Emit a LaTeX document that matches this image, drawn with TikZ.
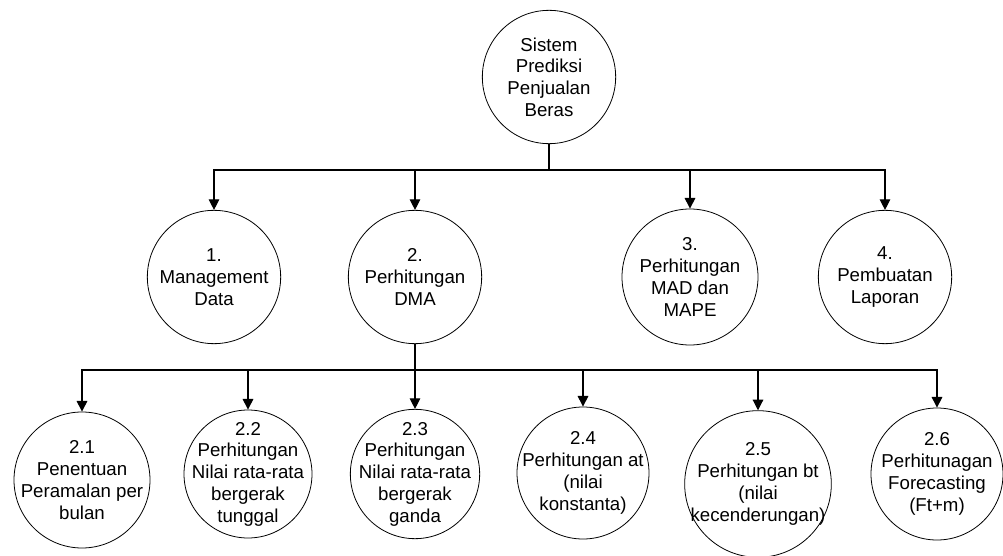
\documentclass[tikz,border=0pt]{standalone}
\usepackage{fontspec}
\setmainfont{Liberation Sans}
\usepackage{tikz}
\usetikzlibrary{arrows.meta}

\begin{document}
\begin{tikzpicture}[->,>={Triangle[length=8pt,width=8pt]},line width=0.8pt,x=0.75pt,y=-0.75pt,
  font=\fontsize{14}{16.3}\selectfont]

    \tikzstyle{proc}=[circle,draw=black,line width=0.6pt,fill=white,text=black,align=center,minimum size=100pt,inner sep=-30pt]

    \useasboundingbox (0,0) rectangle (1003,556);

    \node[proc] (0) at (549,77) {Sistem\\Prediksi\\Penjualan\\Beras};

    \node[proc] (1) at (214,277) {1.\\Management\\Data};
    \node[proc] (2) at (415,277) {2.\\Perhitungan\\DMA};
    \node[proc,minimum size=102pt] (3) at (690,277) {3.\\Perhitungan\\MAD dan\\MAPE};
    \node[proc] (4) at (885,277) {4.\\Pembuatan\\Laporan};

    \node[proc,minimum size=102pt] (21) at (82,480) {2.1\\Penentuan\\Peramalan per\\bulan};
    \node[proc,minimum size=96pt] (22) at (248,474) {2.2\\Perhitungan\\Nilai rata-rata\\bergerak\\tunggal};
    \node[proc,minimum size=97pt] (23) at (415,474) {2.3\\Perhitungan\\Nilai rata-rata\\bergerak\\ganda};
    \node[proc,minimum size=99pt] (24) at (583,473) {2.4\\Perhitungan at\\(nilai\\konstanta)};
    \node[proc,minimum size=110pt] (25) at (758,484) {2.5\\Perhitungan bt\\(nilai\\kecenderungan)};
    \node[proc,minimum size=99pt] (26) at (937,474) {2.6\\Perhitunagan\\Forecasting\\(Ft+m)};

    \coordinate (b0) at (549,170);
    \coordinate (b2) at (415,370);

    \draw[-] (0) -- (b0);
    \foreach \n in {1,2,3,4}
      \draw (b0) -| (\n);

    \draw[-] (2) -- (b2);
    \foreach \n in {21,22,23,24,25,26}
      \draw (b2) -| (\n);

\end{tikzpicture}
\end{document}
